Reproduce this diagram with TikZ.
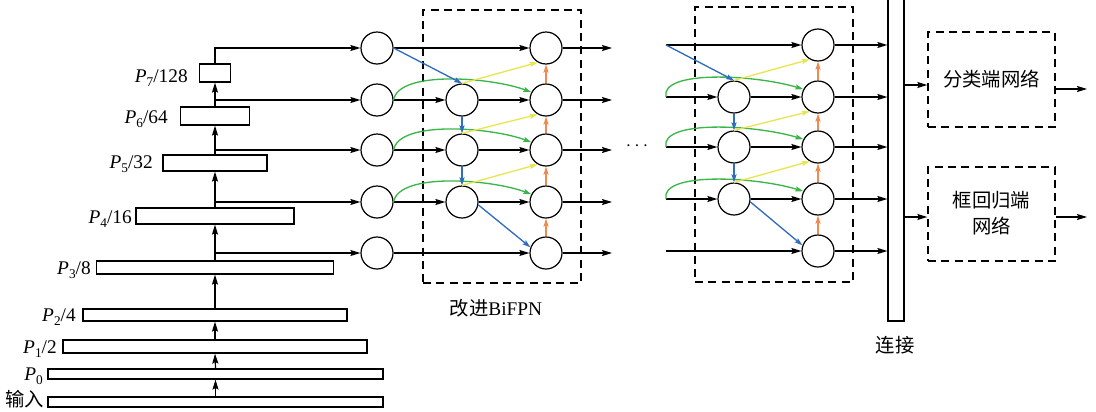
\documentclass[tikz,border=0pt]{standalone}
\usepackage{fontspec}
\setmainfont{Liberation Serif}
\newfontfamily\cjk{Noto Sans CJK SC}
\usetikzlibrary{arrows.meta}
\definecolor{cblue}{HTML}{2F6DBF}
\definecolor{cgreen}{HTML}{3AB54A}
\definecolor{cyellow}{HTML}{E8E650}
\definecolor{corange}{HTML}{F08A50}
\newcommand{\plab}[2]{\textit{P}\raisebox{-0.55ex}{\fontsize{10}{10}\selectfont #1}#2}
\begin{document}
\begin{tikzpicture}[x=0.75pt,y=-0.75pt,
  every node/.style={inner sep=0pt},
  ln/.style={line width=0.9pt},
  arr/.style={ln,-{Stealth[length=7.5pt,width=4.5pt,inset=1.2pt]}},
  carr/.style={line width=1pt,-{Stealth[length=6pt,width=3.8pt,inset=1pt]}},
  blu/.style={carr,draw=cblue},
  grn/.style={carr,draw=cgreen},
  yel/.style={carr,draw=cyellow},
  ora/.style={carr,draw=corange},
  circ/.style={draw,circle,minimum size=24pt,line width=0.9pt},
  sbox/.style={draw,line width=0.9pt},
  dbox/.style={draw,line width=1pt,dash pattern=on 6pt off 4pt},
  lab/.style={font=\fontsize{14.5}{16}\selectfont, anchor=base east},
  clab/.style={font=\cjk\fontsize{14.5}{19}\selectfont, align=center}
]
\useasboundingbox (0,0) rectangle (1096,411);

% dashed boxes
\node[dbox,minimum width=118.5pt,minimum height=204.75pt] (box1) at (502,146.5) {};
\node[dbox,minimum width=118.5pt,minimum height=206.25pt] (box2) at (774,144.5) {};

% backbone stack
\node[sbox,minimum width=23.25pt,minimum height=13.5pt] (s7) at (215,73) {};
\node[sbox,minimum width=51.75pt,minimum height=13.5pt] (s6) at (215,116) {};
\node[sbox,minimum width=78pt,minimum height=12pt] (s5) at (215,163) {};
\node[sbox,minimum width=118.5pt,minimum height=12pt] (s4) at (215,216) {};
\node[sbox,minimum width=177.75pt,minimum height=9.75pt] (s3) at (215,267.5) {};
\node[sbox,minimum width=198pt,minimum height=9pt] (s2) at (215,315) {};
\node[sbox,minimum width=228pt,minimum height=9.75pt] (s1) at (215,346.5) {};
\node[sbox,minimum width=251.25pt,minimum height=7.5pt] (s0) at (215.5,374) {};
\node[sbox,minimum width=251.25pt,minimum height=7.5pt] (sin) at (215.5,402) {};

\node[lab] (l7) at (188,82) {\plab{7}{/128}};
\node[lab] (l6) at (168,123) {\plab{6}{/64}};
\node[lab] (l5) at (153,168) {\plab{5}{/32}};
\node[lab] (l4) at (132,223) {\plab{4}{/16}};
\node[lab] (l3) at (91,274) {\plab{3}{/8}};
\node[lab] (l2) at (76,321) {\plab{2}{/4}};
\node[lab] (l1) at (57,353) {\plab{1}{/2}};
\node[lab] (l0) at (43,380) {\plab{0}{}};
\node[clab,anchor=base east] (lin) at (44,406) {输入};

\draw[arr] (sin.north) -- (s0.south);
\draw[arr] (s0.north) -- (s1.south);
\draw[arr] (s1.north) -- (s2.south);
\draw[arr] (s2.north) -- (s3.south);
\draw[arr] (s3.north) -- (s4.south);
\draw[arr] (s4.north) -- (s5.south);
\draw[arr] (s5.north) -- (s6.south);
\draw[arr] (s6.north) -- (s7.south);

% block 1 circles
\foreach \r/\y in {1/48,2/100,3/150,4/202,5/253}{
  \node[circ] (a\r1) at (377,\y) {};
  \node[circ] (a\r3) at (546,\y) {};
  \coordinate (e\r) at (612,\y);
}
\foreach \r/\y in {2/100,3/150,4/202}{
  \node[circ] (a\r2) at (462,\y) {};
}

% stack to first column
\draw[arr] (s7.north) |- (a11.west);
\draw[arr] (s6.north |- a21) -- (a21.west);
\draw[arr] (s5.north |- a31) -- (a31.west);
\draw[arr] (s4.north |- a41) -- (a41.west);
\draw[arr] (s3.north |- a51) -- (a51.west);

% block 1 black
\draw[arr] (a11.east) -- (a13.west);
\draw[arr] (a51.east) -- (a53.west);
\foreach \r in {2,3,4}{
  \draw[arr] (a\r1.east) -- (a\r2.west);
  \draw[arr] (a\r2.east) -- (a\r3.west);
}
\foreach \r in {1,...,5}{
  \draw[arr] (a\r3.east) -- (e\r);
}
% green arcs
\foreach \r in {2,3,4}{
  \draw[grn] (a\r1.east) .. controls +(5,-30) and +(-40,-15) .. (a\r3.152);
}
% blue
\draw[blu] (a11.east) -- (a22.north);
\draw[blu] (a22.south) -- (a32.north);
\draw[blu] (a32.south) -- (a42.north);
\draw[blu] (a42.-10) -- (a53.160);
% yellow
\draw[yel] (a22.north) -- (a13.-120);
\draw[yel] (a32.north) -- (a23.-120);
\draw[yel] (a42.north) -- (a33.-120);
% orange
\draw[ora] (a53.north) -- (a43.south);
\draw[ora] (a43.north) -- (a33.south);
\draw[ora] (a33.north) -- (a23.south);
\draw[ora] (a23.north) -- (a13.south);

\node[font=\fontsize{14.5}{16}\selectfont] (dots) at (637,146) {$\cdots$};
\node[font=\fontsize{14.5}{16}\selectfont] (blab) at (496,308) {{\cjk 改进}BiFPN};

% block 2
\foreach \r/\y in {1/45,2/97,3/147,4/199,5/251}{
  \node[circ] (b\r3) at (818,\y) {};
  \coordinate (f\r) at (666,\y);
}
\foreach \r/\y in {2/97,3/147,4/199}{
  \node[circ] (b\r2) at (734,\y) {};
}

% concat bar and heads
\node[sbox,minimum width=12pt,minimum height=241.5pt] (bar) at (896,160) {};
\node[clab] (blabel) at (895,345) {连接};
\node[dbox,minimum width=95.25pt,minimum height=71.25pt] (boxA) at (991.5,79.5) {};
\node[dbox,minimum width=95.25pt,minimum height=70.5pt] (boxB) at (991.5,214) {};
\node[clab] (tA) at (boxA) {分类端网络};
\node[clab] (tB) at (991.5,213) {框回归端\\网络};

\draw[arr] (f1) -- (b13.west);
\draw[arr] (f5) -- (b53.west);
\foreach \r in {2,3,4}{
  \draw[arr] (f\r) -- (b\r2.west);
  \draw[arr] (b\r2.east) -- (b\r3.west);
  \draw[grn] (f\r) .. controls +(-6,-27) and +(-50,-15) .. (b\r3.152);
}
\foreach \r in {1,...,5}{
  \draw[arr] (b\r3.east) -- (bar.west |- b\r3);
}
\draw[blu] (f1) -- (b22.north);
\draw[blu] (b22.south) -- (b32.north);
\draw[blu] (b32.south) -- (b42.north);
\draw[blu] (b42.-10) -- (b53.160);
\draw[yel] (b22.north) -- (b13.-120);
\draw[yel] (b32.north) -- (b23.-120);
\draw[yel] (b42.north) -- (b33.-120);
\draw[ora] (b53.north) -- (b43.south);
\draw[ora] (b43.north) -- (b33.south);
\draw[ora] (b33.north) -- (b23.south);
\draw[ora] (b23.north) -- (b13.south);

\coordinate (ya) at (0,85);
\coordinate (yb) at (0,217);
\coordinate (oa) at (1087,89);
\coordinate (ob) at (1087,217);
\draw[arr] (bar.east |- ya) -- (boxA.west |- ya);
\draw[arr] (bar.east |- yb) -- (boxB.west |- yb);
\draw[arr] (boxA.east |- oa) -- (oa);
\draw[arr] (boxB.east |- ob) -- (ob);
\end{tikzpicture}
\end{document}
